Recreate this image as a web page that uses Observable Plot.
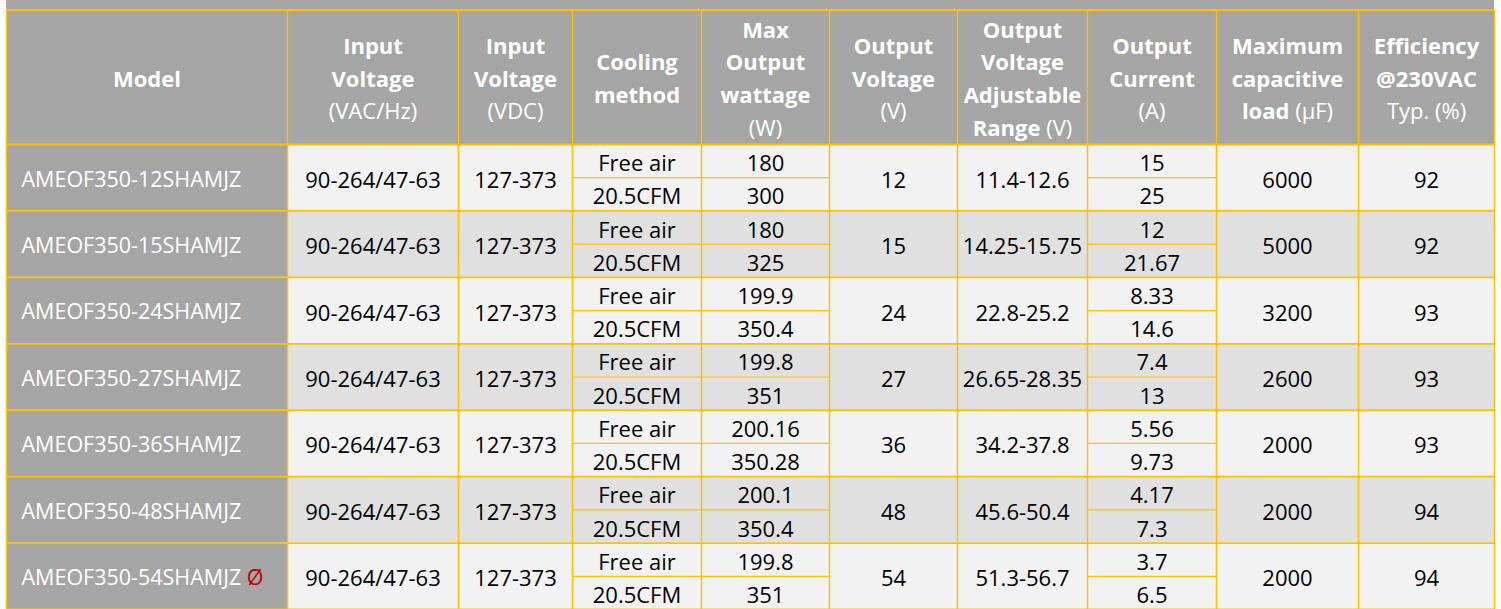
<!DOCTYPE html>
<html>
<head>
<meta charset="utf-8">
<script src="https://cdn.jsdelivr.net/npm/d3@7"></script>
<script src="https://cdn.jsdelivr.net/npm/@observablehq/plot@0.6"></script>
<style>
  html, body { margin: 0; padding: 0; background: #fff; }
  #chart svg { display: block; }
</style>
</head>
<body>
<div id="chart"></div>
<script>
// ---------- data ----------
const headers = [
  ["Model"],
  ["Input", "Voltage", "(VAC/Hz)"],
  ["Input", "Voltage", "(VDC)"],
  ["Cooling", "method"],
  ["Max", "Output", "wattage", "(W)"],
  ["Output", "Voltage", "(V)"],
  ["Output", "Voltage", "Adjustable", "Range (V)"],
  ["Output", "Current", "(A)"],
  ["Maximum", "capacitive", "load (µF)"],
  ["Efficiency", "@230VAC", "Typ. (%)"]
];
const unitParts = ["(VAC/Hz)", "(VDC)", "(W)", "(V)", "(A)", "(µF)", "Typ. (%)"];
const models = ["AMEOF350-12SHAMJZ", "AMEOF350-15SHAMJZ", "AMEOF350-24SHAMJZ", "AMEOF350-27SHAMJZ",
                "AMEOF350-36SHAMJZ", "AMEOF350-48SHAMJZ", "AMEOF350-54SHAMJZ"];
const notes = ["", "", "", "", "", "", "Ø"];
const inputVAC = ["90-264/47-63", "90-264/47-63", "90-264/47-63", "90-264/47-63", "90-264/47-63", "90-264/47-63", "90-264/47-63"];
const inputVDC = ["127-373", "127-373", "127-373", "127-373", "127-373", "127-373", "127-373"];
const coolingMethods = ["Free air", "20.5CFM"];
const wattFreeAir = ["180", "180", "199.9", "199.8", "200.16", "200.1", "199.8"];
const wattCFM = ["300", "325", "350.4", "351", "350.28", "350.4", "351"];
const outputVoltage = ["12", "15", "24", "27", "36", "48", "54"];
const adjustRange = ["11.4-12.6", "14.25-15.75", "22.8-25.2", "26.65-28.35", "34.2-37.8", "45.6-50.4", "51.3-56.7"];
const currentFreeAir = ["15", "12", "8.33", "7.4", "5.56", "4.17", "3.7"];
const currentCFM = ["25", "21.67", "14.6", "13", "9.73", "7.3", "6.5"];
const capLoad = ["6000", "5000", "3200", "2600", "2000", "2000", "2000"];
const efficiency = ["92", "92", "93", "93", "93", "94", "94"];

// ---------- layout / style ----------
const colEdges = [6, 287, 458, 572, 701, 829, 957, 1087, 1216, 1358, 1494];
const GOLD = "#ffc000";
const GRAY = "#a5a5a5";
const ROW_LIGHT = "#f2f2f2";
const ROW_DARK = "#e0e0e0";
const nCols = headers.length;
const nRows = models.length;

const cells = [];
cells.push({x1: 0, x2: nCols, y1: 0, y2: 1, fill: GRAY});       // top band
cells.push({x1: 0, x2: nCols, y1: 1, y2: 2, fill: GRAY});       // header
models.forEach((m, i) => {
  const bg = i % 2 === 0 ? ROW_LIGHT : ROW_DARK;
  cells.push({x1: 0, x2: 1, y1: 2 + i, y2: 3 + i, fill: GRAY});
  cells.push({x1: 1, x2: nCols, y1: 2 + i, y2: 3 + i, fill: bg});
});

const fullCols = [
  [1, inputVAC], [2, inputVDC], [5, outputVoltage], [6, adjustRange], [8, capLoad], [9, efficiency]
];
const dataTexts = [];
models.forEach((m, i) => {
  fullCols.forEach(([c, arr]) => dataTexts.push({x: c + 0.5, y: 2.5 + i, text: arr[i]}));
  dataTexts.push({x: 3.5, y: 2.25 + i, text: coolingMethods[0]});
  dataTexts.push({x: 3.5, y: 2.75 + i, text: coolingMethods[1]});
  dataTexts.push({x: 4.5, y: 2.25 + i, text: wattFreeAir[i]});
  dataTexts.push({x: 4.5, y: 2.75 + i, text: wattCFM[i]});
  dataTexts.push({x: 7.5, y: 2.25 + i, text: currentFreeAir[i]});
  dataTexts.push({x: 7.5, y: 2.75 + i, text: currentCFM[i]});
});
const modelTexts = models.map((m, i) => ({x: 0, y: 2.5 + i, text: notes[i] ? m + " " + notes[i] : m}));
const headerTexts = headers.map((h, c) => ({x: c + 0.5, y: 1.5, text: h.join("\n")}));

const subLines = [];
models.forEach((m, i) => {
  subLines.push({x1: 3, x2: 5, y: 2.5 + i});
  subLines.push({x1: 7, x2: 8, y: 2.5 + i});
});

const svg = Plot.plot({
  width: 1501,
  height: 609,
  margin: 0,
  x: {type: "linear", domain: d3.range(nCols + 1), range: colEdges, axis: null},
  y: {type: "linear", domain: [0, 1, 2, 2 + nRows], range: [0, 9.5, 144, 609], axis: null},
  color: {type: "identity"},
  style: {background: "#fff", fontFamily: "'Open Sans', 'DejaVu Sans', sans-serif"},
  marks: [
    Plot.rect(cells, {x1: "x1", x2: "x2", y1: "y1", y2: "y2", fill: "fill"}),
    Plot.ruleY(subLines, {x1: "x1", x2: "x2", y: "y", stroke: GOLD, strokeWidth: 1.2}),
    Plot.ruleY(d3.range(1, 2 + nRows + 1), {x1: 0, x2: nCols, stroke: GOLD, strokeWidth: 1.8}),
    Plot.ruleX(d3.range(nCols + 1), {y1: 1, y2: 2 + nRows, stroke: GOLD, strokeWidth: 1.5}),
    Plot.text(headerTexts, {x: "x", y: "y", text: "text", fill: "#ffffff", fontSize: 22, fontWeight: "bold",
      lineHeight: 1.48, dy: -1}),
    Plot.text(modelTexts, {x: "x", y: "y", text: "text", fill: "#ffffff", fontSize: 21.5, textAnchor: "start",
      dx: 15, dy: 2}),
    Plot.text(dataTexts, {x: "x", y: "y", text: "text", fill: "#000000", fontSize: 22, dy: 3})
  ]
});

// mixed-weight header lines (units in normal weight) and red note markers
const NS = "http://www.w3.org/2000/svg";
svg.querySelectorAll("text").forEach(t => {
  const spans = t.querySelectorAll("tspan");
  const nodes = spans.length ? Array.from(spans) : [t];
  nodes.forEach(n => {
    const s = n.textContent;
    const part = unitParts.find(p => s.endsWith(p));
    if (part) {
      n.textContent = s.slice(0, s.length - part.length);
      const ts = document.createElementNS(NS, "tspan");
      ts.setAttribute("font-weight", "normal");
      ts.textContent = part;
      n.appendChild(ts);
      return;
    }
    const note = notes.find(nt => nt && s.endsWith(" " + nt));
    if (note) {
      n.textContent = s.slice(0, s.length - note.length);
      const ts = document.createElementNS(NS, "tspan");
      ts.setAttribute("fill", "#c00000");
      ts.textContent = note;
      n.appendChild(ts);
    }
  });
});

document.getElementById("chart").appendChild(svg);
</script>
</body>
</html>
